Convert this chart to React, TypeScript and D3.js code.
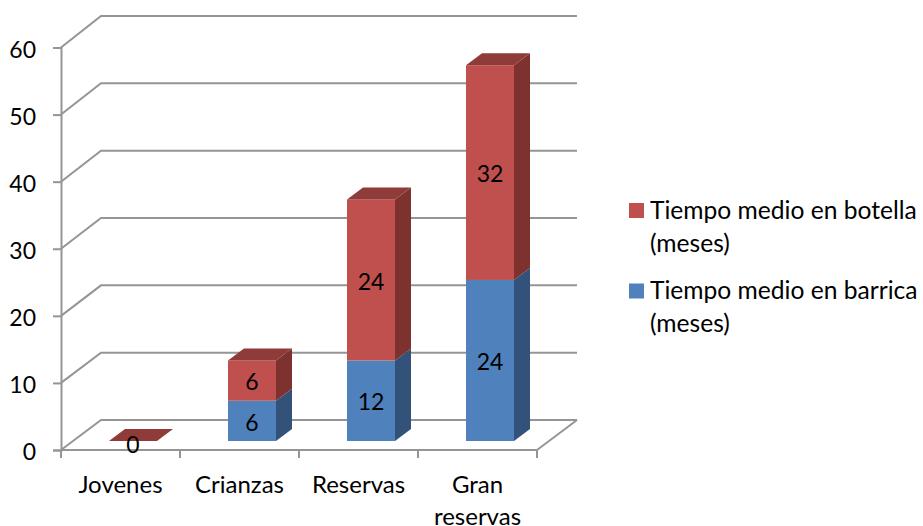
import React, { useEffect, useRef } from 'react';
import * as d3 from 'd3';

const categories = ['Jovenes', 'Crianzas', 'Reservas', 'Gran reservas'];
const barrica = [0, 6, 12, 24];
const botella = [0, 6, 24, 32];
const yTicks = [0, 10, 20, 30, 40, 50, 60];
const legendItems = [
  { lines: ['Tiempo medio en botella', '(meses)'], color: '#C0504D' },
  { lines: ['Tiempo medio en barrica', '(meses)'], color: '#4F81BD' },
];

const width = 923;
const height = 526;
const fontFamily = 'Lato, Carlito, Calibri, sans-serif';
const gridColor = '#959595';

// back wall sits up and to the right of the front plane
const wallDx = 40;
// bars sit inside the depth of the floor
const barDx = 12.5;
const barDepthX = 16;
const barDepthY = -12;
const barWidth = 48;

const App: React.FC = () => {
  const ref = useRef<SVGSVGElement>(null);

  useEffect(() => {
    const svg = d3.select(ref.current);
    svg.selectAll('*').remove();

    const x = d3.scaleBand<string>().domain(categories).range([61, 537]);
    const y = d3.scaleLinear().domain([0, 60]).range([450, 47.5]);
    const yBack = d3.scaleLinear().domain([0, 60]).range([420, 16]);
    const yBar = d3.scaleLinear().domain([0, 60]).range([441, 38.4]);

    // walls and gridlines
    const grid = svg.append('g').attr('fill', 'none').attr('stroke', gridColor).attr('stroke-width', 2);
    yTicks.forEach((t) => {
      grid
        .append('path')
        .attr('d', `M${x.range()[0]},${y(t)}L${x.range()[0] + wallDx},${yBack(t)}L${x.range()[1] + wallDx},${yBack(t)}`);
    });
    grid
      .append('path')
      .attr('d', `M${x.range()[1]},${y(0)}L${x.range()[1] + wallDx},${yBack(0)}`);

    // axes
    const yAxis = svg
      .append('g')
      .attr('transform', `translate(${x.range()[0]},0)`)
      .call(d3.axisLeft(y).tickValues(yTicks).tickSize(8).tickPadding(17));
    yAxis.selectAll('path').attr('stroke', gridColor).attr('stroke-width', 2);
    yAxis.selectAll('line').attr('stroke', gridColor).attr('stroke-width', 2);
    yAxis
      .selectAll('text')
      .attr('font-family', fontFamily)
      .attr('font-size', 23)
      .attr('dy', '0.42em')
      .attr('fill', '#000');

    const xAxis = svg.append('g').attr('stroke', gridColor).attr('stroke-width', 2);
    xAxis.append('line').attr('x1', 61).attr('x2', 537).attr('y1', y(0)).attr('y2', y(0));
    d3.range(categories.length + 1).forEach((i) => {
      const tx = x.range()[0] + i * x.step();
      xAxis.append('line').attr('x1', tx).attr('x2', tx).attr('y1', y(0)).attr('y2', y(0) + 8);
    });

    categories.forEach((c, i) => {
      const cx = (x(c) as number) + x.bandwidth() / 2;
      const words = c === 'Gran reservas' ? c.split(' ') : [c];
      words.forEach((w, j) => {
        svg
          .append('text')
          .attr('x', cx)
          .attr('y', 493 + j * 32)
          .attr('text-anchor', 'middle')
          .attr('font-family', fontFamily)
          .attr('font-size', 24)
          .attr('fill', '#000')
          .text(w);
      });

      // stacked 3d bar
      const left = cx + barDx - barWidth / 2;
      const right = left + barWidth;
      const b0 = yBar(0);
      const mid = yBar(barrica[i]);
      const top = yBar(barrica[i] + botella[i]);

      const segments = [
        { from: b0, to: mid, face: '#4F81BD', side: '#33527A' },
        { from: mid, to: top, face: '#C0504D', side: '#7D3230' },
      ];
      segments.forEach((s) => {
        if (s.from === s.to) return;
        svg
          .append('path')
          .attr('d', `M${right},${s.from}L${right + barDepthX},${s.from + barDepthY}L${right + barDepthX},${s.to + barDepthY}L${right},${s.to}Z`)
          .attr('fill', s.side);
        svg
          .append('rect')
          .attr('x', left)
          .attr('y', s.to)
          .attr('width', barWidth)
          .attr('height', s.from - s.to)
          .attr('fill', s.face);
      });
      svg
        .append('path')
        .attr('d', `M${left},${top}L${left + barDepthX},${top + barDepthY}L${right + barDepthX},${top + barDepthY}L${right},${top}Z`)
        .attr('fill', '#8E3B39');

      // data labels
      const labelX = left + barWidth / 2;
      const label = (v: number, ly: number) => {
        svg
          .append('text')
          .attr('x', labelX)
          .attr('y', ly)
          .attr('dy', '0.42em')
          .attr('text-anchor', 'middle')
          .attr('font-family', fontFamily)
          .attr('font-size', 23)
          .attr('fill', '#000')
          .text(v);
      };
      if (barrica[i] > 0) label(barrica[i], (b0 + mid) / 2);
      label(botella[i], botella[i] > 0 ? (mid + top) / 2 : top + 2);
    });

    // legend
    legendItems.forEach((item, i) => {
      const ly = 203 + i * 80.5;
      svg.append('rect').attr('x', 629).attr('y', ly).attr('width', 15).attr('height', 15).attr('fill', item.color);
      item.lines.forEach((line, j) => {
        svg
          .append('text')
          .attr('x', 650)
          .attr('y', ly + 15.5 + j * 33)
          .attr('font-family', fontFamily)
          .attr('font-size', 24.6)
          .attr('fill', '#000')
          .text(line);
      });
    });
  }, []);

  return (
    <svg
      ref={ref}
      width={width}
      height={height}
      style={{ position: 'absolute', left: 0, top: 0, background: '#fff' }}
    />
  );
};

export default App;
